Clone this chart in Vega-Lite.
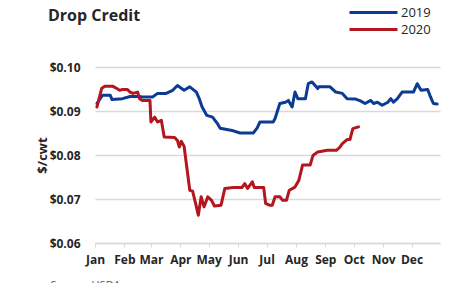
{
  "$schema": "https://vega.github.io/schema/vega-lite/v6.json",
  "width": 345,
  "height": 176,
  "autosize": "none",
  "padding": {"left": 95, "top": 67, "right": 9, "bottom": 40},
  "background": "white",
  "title": {
    "text": "Drop Credit",
    "anchor": "start",
    "frame": "group",
    "font": "Open Sans",
    "fontSize": 16,
    "fontWeight": "bold",
    "color": "#262626",
    "dx": -47,
    "offset": 0,
    "dy": 21
  },
  "data": {
    "values": [
      {"date": "2019-01-03", "series": "2019", "value": 0.0917},
      {"date": "2019-01-09", "series": "2019", "value": 0.0936},
      {"date": "2019-01-17", "series": "2019", "value": 0.0936},
      {"date": "2019-01-19", "series": "2019", "value": 0.0926},
      {"date": "2019-01-30", "series": "2019", "value": 0.0928},
      {"date": "2019-02-07", "series": "2019", "value": 0.0933},
      {"date": "2019-02-17", "series": "2019", "value": 0.0933},
      {"date": "2019-02-20", "series": "2019", "value": 0.0932},
      {"date": "2019-03-03", "series": "2019", "value": 0.0932},
      {"date": "2019-03-08", "series": "2019", "value": 0.0940},
      {"date": "2019-03-17", "series": "2019", "value": 0.0940},
      {"date": "2019-03-24", "series": "2019", "value": 0.0947},
      {"date": "2019-03-29", "series": "2019", "value": 0.0958},
      {"date": "2019-04-05", "series": "2019", "value": 0.0947},
      {"date": "2019-04-11", "series": "2019", "value": 0.0955},
      {"date": "2019-04-18", "series": "2019", "value": 0.0943},
      {"date": "2019-04-21", "series": "2019", "value": 0.0928},
      {"date": "2019-04-24", "series": "2019", "value": 0.0909},
      {"date": "2019-04-29", "series": "2019", "value": 0.0890},
      {"date": "2019-05-05", "series": "2019", "value": 0.0886},
      {"date": "2019-05-10", "series": "2019", "value": 0.0872},
      {"date": "2019-05-13", "series": "2019", "value": 0.0861},
      {"date": "2019-05-20", "series": "2019", "value": 0.0858},
      {"date": "2019-05-27", "series": "2019", "value": 0.0855},
      {"date": "2019-06-03", "series": "2019", "value": 0.0850},
      {"date": "2019-06-17", "series": "2019", "value": 0.0850},
      {"date": "2019-06-21", "series": "2019", "value": 0.0861},
      {"date": "2019-06-24", "series": "2019", "value": 0.0875},
      {"date": "2019-07-08", "series": "2019", "value": 0.0875},
      {"date": "2019-07-10", "series": "2019", "value": 0.0883},
      {"date": "2019-07-15", "series": "2019", "value": 0.0917},
      {"date": "2019-07-21", "series": "2019", "value": 0.0920},
      {"date": "2019-07-24", "series": "2019", "value": 0.0924},
      {"date": "2019-07-28", "series": "2019", "value": 0.0909},
      {"date": "2019-07-31", "series": "2019", "value": 0.0943},
      {"date": "2019-08-03", "series": "2019", "value": 0.0928},
      {"date": "2019-08-11", "series": "2019", "value": 0.0928},
      {"date": "2019-08-14", "series": "2019", "value": 0.0962},
      {"date": "2019-08-18", "series": "2019", "value": 0.0966},
      {"date": "2019-08-24", "series": "2019", "value": 0.0951},
      {"date": "2019-08-25", "series": "2019", "value": 0.0955},
      {"date": "2019-09-06", "series": "2019", "value": 0.0955},
      {"date": "2019-09-12", "series": "2019", "value": 0.0943},
      {"date": "2019-09-19", "series": "2019", "value": 0.0940},
      {"date": "2019-09-24", "series": "2019", "value": 0.0928},
      {"date": "2019-10-03", "series": "2019", "value": 0.0927},
      {"date": "2019-10-08", "series": "2019", "value": 0.0923},
      {"date": "2019-10-13", "series": "2019", "value": 0.0917},
      {"date": "2019-10-19", "series": "2019", "value": 0.0924},
      {"date": "2019-10-22", "series": "2019", "value": 0.0917},
      {"date": "2019-10-26", "series": "2019", "value": 0.0920},
      {"date": "2019-10-31", "series": "2019", "value": 0.0913},
      {"date": "2019-11-06", "series": "2019", "value": 0.0920},
      {"date": "2019-11-09", "series": "2019", "value": 0.0928},
      {"date": "2019-11-12", "series": "2019", "value": 0.0920},
      {"date": "2019-11-16", "series": "2019", "value": 0.0928},
      {"date": "2019-11-21", "series": "2019", "value": 0.0943},
      {"date": "2019-12-03", "series": "2019", "value": 0.0943},
      {"date": "2019-12-07", "series": "2019", "value": 0.0962},
      {"date": "2019-12-11", "series": "2019", "value": 0.0947},
      {"date": "2019-12-18", "series": "2019", "value": 0.0949},
      {"date": "2019-12-21", "series": "2019", "value": 0.0932},
      {"date": "2019-12-24", "series": "2019", "value": 0.0917},
      {"date": "2019-12-28", "series": "2019", "value": 0.0916},

      {"date": "2019-01-03", "series": "2020", "value": 0.0909},
      {"date": "2019-01-08", "series": "2020", "value": 0.0951},
      {"date": "2019-01-11", "series": "2020", "value": 0.0956},
      {"date": "2019-01-20", "series": "2020", "value": 0.0956},
      {"date": "2019-01-24", "series": "2020", "value": 0.0951},
      {"date": "2019-01-27", "series": "2020", "value": 0.0947},
      {"date": "2019-01-30", "series": "2020", "value": 0.0949},
      {"date": "2019-02-04", "series": "2020", "value": 0.0949},
      {"date": "2019-02-07", "series": "2020", "value": 0.0943},
      {"date": "2019-02-10", "series": "2020", "value": 0.0940},
      {"date": "2019-02-15", "series": "2020", "value": 0.0943},
      {"date": "2019-02-17", "series": "2020", "value": 0.0928},
      {"date": "2019-02-20", "series": "2020", "value": 0.0924},
      {"date": "2019-02-28", "series": "2020", "value": 0.0924},
      {"date": "2019-03-01", "series": "2020", "value": 0.0875},
      {"date": "2019-03-05", "series": "2020", "value": 0.0886},
      {"date": "2019-03-08", "series": "2020", "value": 0.0875},
      {"date": "2019-03-12", "series": "2020", "value": 0.0879},
      {"date": "2019-03-15", "series": "2020", "value": 0.0841},
      {"date": "2019-03-26", "series": "2020", "value": 0.0840},
      {"date": "2019-03-29", "series": "2020", "value": 0.0833},
      {"date": "2019-03-31", "series": "2020", "value": 0.0818},
      {"date": "2019-04-02", "series": "2020", "value": 0.0831},
      {"date": "2019-04-05", "series": "2020", "value": 0.0820},
      {"date": "2019-04-11", "series": "2020", "value": 0.0720},
      {"date": "2019-04-14", "series": "2020", "value": 0.0718},
      {"date": "2019-04-18", "series": "2020", "value": 0.0682},
      {"date": "2019-04-20", "series": "2020", "value": 0.0663},
      {"date": "2019-04-23", "series": "2020", "value": 0.0705},
      {"date": "2019-04-26", "series": "2020", "value": 0.0682},
      {"date": "2019-04-30", "series": "2020", "value": 0.0705},
      {"date": "2019-05-04", "series": "2020", "value": 0.0697},
      {"date": "2019-05-07", "series": "2020", "value": 0.0684},
      {"date": "2019-05-14", "series": "2020", "value": 0.0686},
      {"date": "2019-05-18", "series": "2020", "value": 0.0724},
      {"date": "2019-05-27", "series": "2020", "value": 0.0726},
      {"date": "2019-06-05", "series": "2020", "value": 0.0726},
      {"date": "2019-06-08", "series": "2020", "value": 0.0735},
      {"date": "2019-06-11", "series": "2020", "value": 0.0724},
      {"date": "2019-06-16", "series": "2020", "value": 0.0739},
      {"date": "2019-06-18", "series": "2020", "value": 0.0726},
      {"date": "2019-06-28", "series": "2020", "value": 0.0726},
      {"date": "2019-06-30", "series": "2020", "value": 0.0690},
      {"date": "2019-07-04", "series": "2020", "value": 0.0686},
      {"date": "2019-07-07", "series": "2020", "value": 0.0686},
      {"date": "2019-07-10", "series": "2020", "value": 0.0705},
      {"date": "2019-07-15", "series": "2020", "value": 0.0705},
      {"date": "2019-07-18", "series": "2020", "value": 0.0697},
      {"date": "2019-07-22", "series": "2020", "value": 0.0697},
      {"date": "2019-07-25", "series": "2020", "value": 0.0720},
      {"date": "2019-07-31", "series": "2020", "value": 0.0727},
      {"date": "2019-08-04", "series": "2020", "value": 0.0742},
      {"date": "2019-08-08", "series": "2020", "value": 0.0777},
      {"date": "2019-08-16", "series": "2020", "value": 0.0777},
      {"date": "2019-08-19", "series": "2020", "value": 0.0799},
      {"date": "2019-08-24", "series": "2020", "value": 0.0807},
      {"date": "2019-09-03", "series": "2020", "value": 0.0811},
      {"date": "2019-09-13", "series": "2020", "value": 0.0811},
      {"date": "2019-09-16", "series": "2020", "value": 0.0817},
      {"date": "2019-09-19", "series": "2020", "value": 0.0826},
      {"date": "2019-09-24", "series": "2020", "value": 0.0835},
      {"date": "2019-09-27", "series": "2020", "value": 0.0835},
      {"date": "2019-09-30", "series": "2020", "value": 0.0860},
      {"date": "2019-10-06", "series": "2020", "value": 0.0864}
    ]
  },
  "mark": {"type": "line", "strokeWidth": 3, "strokeJoin": "round", "strokeCap": "round"},
  "encoding": {
    "x": {
      "field": "date",
      "type": "temporal",
      "scale": {
        "type": "utc",
        "domain": [
          {"year": 2019, "month": 1, "date": 1, "utc": true},
          {"year": 2019, "month": 12, "date": 31, "utc": true}
        ]
      },
      "axis": {
        "title": "Source: USDA",
        "titleX": -45,
        "titleY": 36,
        "titleAlign": "left",
        "titleBaseline": "top",
        "titleFont": "Open Sans",
        "titleFontSize": 11,
        "titleFontWeight": "normal",
        "titleColor": "#595959",
        "tickCount": {"interval": "month", "step": 1},
        "labelExpr": "utcFormat(datum.value, '%b')",
        "labelFlush": false,
        "labelOverlap": false,
        "labelBound": false,
        "labelFont": "Open Sans",
        "labelFontSize": 12,
        "labelFontWeight": "bold",
        "labelColor": "#262626",
        "labelPadding": 7,
        "tickSize": 4,
        "tickColor": "#d9d9d9",
        "domainColor": "#d9d9d9",
        "domainWidth": 1.5,
        "grid": false
      }
    },
    "y": {
      "field": "value",
      "type": "quantitative",
      "scale": {"domain": [0.06, 0.10], "nice": false, "zero": false},
      "axis": {
        "title": "$/cwt",
        "titleFont": "Open Sans",
        "titleFontSize": 13,
        "titleFontWeight": "bold",
        "titleColor": "#262626",
        "titlePadding": 0,
        "values": [0.06, 0.07, 0.08, 0.09, 0.10],
        "format": "$.2f",
        "labelFont": "Open Sans",
        "labelFontSize": 12,
        "labelFontWeight": "bold",
        "labelColor": "#262626",
        "labelPadding": 15,
        "ticks": false,
        "domain": false,
        "grid": true,
        "gridColor": "#d9d9d9",
        "gridWidth": 1.5
      }
    },
    "color": {
      "field": "series",
      "type": "nominal",
      "scale": {"domain": ["2019", "2020"], "range": ["#0B3B94", "#B3161E"]},
      "legend": {
        "title": null,
        "orient": "none",
        "legendX": 269,
        "legendY": -64,
        "padding": 0,
        "symbolType": "M-3,0H3",
        "symbolSize": 256,
        "symbolStrokeWidth": 3,
        "labelOffset": 18,
        "rowPadding": 0,
        "labelFont": "Open Sans",
        "labelFontSize": 13,
        "labelColor": "#262626"
      }
    }
  },
  "config": {"view": {"stroke": null}}
}
